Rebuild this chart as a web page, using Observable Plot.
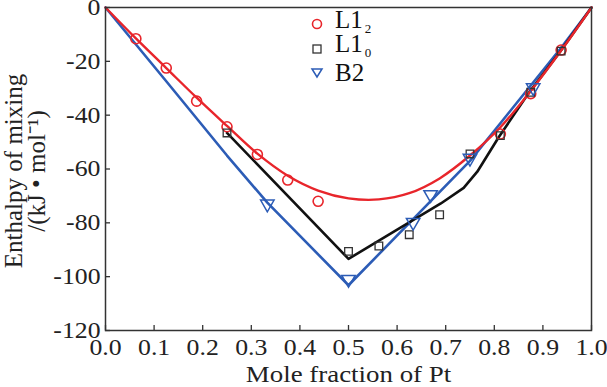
<!DOCTYPE html>
<html><head><meta charset="utf-8">
<script src="https://cdn.jsdelivr.net/npm/d3@7"></script>
<script src="https://cdn.jsdelivr.net/npm/@observablehq/plot@0.6"></script>
<style>
html,body{margin:0;padding:0;background:#fff;}
#wrap{position:relative;width:607px;height:387px;font-family:"Liberation Serif",serif;}
#legend{position:absolute;left:310px;top:12px;font-size:25px;line-height:24.5px;color:#111;}
#legend div{display:flex;align-items:center;height:24.5px;}
#legend svg{margin-right:11px;}
#legend sub{font-size:13px;vertical-align:-5px;margin-left:2px;}
</style></head><body>
<div id="wrap"><div id="chart"></div><div id="legend"></div></div>
<script>
// L1_2 data points
const l12X = [0.0625,0.125,0.1875,0.25,0.3125,0.375,0.4375,0.8125,0.875,0.9375];
const l12Y = [-11.6,-22.5,-34.8,-44.3,-54.6,-64.1,-72,-47,-32,-15.8];
// L1_2 fitted curve
const l12LineX = [0,0.0625,0.125,0.1875,0.25,0.3125,0.375,0.4375,0.5,0.5625,0.625,0.6875,0.75,0.8125,0.875,0.9375,1];
const l12LineY = [0,-11.5,-22.5,-33.5,-44,-54.3,-62.5,-68,-70.9,-71.3,-69,-63.5,-55,-44.5,-31,-16,0];
// L1_0 data points
const l10X = [0.25,0.5,0.5625,0.625,0.6875,0.75,0.8125,0.875,0.9375];
const l10Y = [-46.6,-90.6,-88.6,-84.4,-77,-54.4,-47.6,-31.5,-16.2];
// L1_0 line
const l10LineX = [0.25,0.5,0.69,0.737,0.765,0.809,0.87,0.935,1];
const l10LineY = [-46.6,-93.4,-72.8,-67,-61,-48.2,-32,-16.5,0];
// B2 data points
const b2X = [0.333,0.5,0.633,0.669,0.75,0.88];
const b2Y = [-73,-101,-79.8,-69.5,-56,-29.8];
// B2 line
const b2LineX = [0,0.125,0.25,0.333,0.5,0.75,0.8125,0.875,0.9375,1];
const b2LineY = [0,-27.4,-55,-72.5,-103.2,-57,-43,-29,-15,0];
// axes
const xTicks = [0,0.1,0.2,0.3,0.4,0.5,0.6,0.7,0.8,0.9,1.0];
const yTicks = [0,-20,-40,-60,-80,-100,-120];
const xLabel = "Mole fraction of Pt";
const yLabel = "Enthalpy of mixing\n/(kJ • mol⁻¹)";

const red = "#e8252b", blue = "#2c5cb6", black = "#111", sqc = "#333";
const pts = (X, Y) => X.map((x, i) => ({x, y: Y[i]}));
const serif = "'Liberation Serif', 'Times New Roman', serif";

const plot = Plot.plot({
  width: 607, height: 387,
  marginLeft: 105, marginRight: 16, marginTop: 7, marginBottom: 57,
  style: {background: "#fff", overflow: "visible", fontFamily: serif},
  x: {domain: [0, 1], ticks: xTicks},
  y: {domain: [-120, 0], ticks: yTicks},
  marks: [
    Plot.line(pts(b2LineX, b2LineY), {x: "x", y: "y", stroke: blue, strokeWidth: 2.6}),
    Plot.line(pts(l10LineX, l10LineY), {x: "x", y: "y", stroke: black, strokeWidth: 2.6}),
    Plot.line(pts(l12LineX, l12LineY), {x: "x", y: "y", stroke: red, strokeWidth: 2.4, curve: "catmull-rom"}),
    Plot.dot(pts(l12X, l12Y), {x: "x", y: "y", r: 5, stroke: red, strokeWidth: 1.6, fill: "none"}),
    Plot.dot(pts(l10X, l10Y), {x: "x", y: "y", symbol: "square", r: 4.3, stroke: sqc, strokeWidth: 1.3, fill: "none"}),
    Plot.dot(pts(b2X, b2Y), {x: "x", y: "y", symbol: "triangle", rotate: 180, r: 5, stroke: blue, strokeWidth: 1.5, fill: "none"}),
    Plot.frame({stroke: "#333", strokeWidth: 1.5}),
    Plot.axisX({ticks: xTicks, tickSize: 5, dy: -5, text: null, label: null, stroke: "#333", strokeWidth: 1.3}),
    Plot.axisY({ticks: yTicks, tickSize: 5, dx: 5, text: null, label: null, stroke: "#333", strokeWidth: 1.3}),
    Plot.axisX({ticks: xTicks, tickSize: 0, tickPadding: 8, tickFormat: d => d.toFixed(1), label: null, fontSize: 23, fill: "#222", fontFamily: serif, className: "stretch"}),
    Plot.axisY({ticks: yTicks, tickSize: 0, tickPadding: 5, tickFormat: d => String(d), label: null, fontSize: 23, fill: "#222", fontFamily: serif, className: "stretch"}),
    Plot.text([xLabel], {frameAnchor: "bottom", lineAnchor: "middle", dy: 44, fontSize: 24, fill: "#222", fontFamily: serif, className: "stretch"}),
    Plot.text([yLabel], {frameAnchor: "left", textAnchor: "middle", lineAnchor: "middle", rotate: -90, dx: -79, dy: 2, fontSize: 25, lineHeight: 0.9, fill: "#222", fontFamily: serif})
  ]
});
document.getElementById("chart").appendChild(plot);
// widen the horizontal texts as in the reference
plot.querySelectorAll(".stretch text").forEach(t => {
  const w = t.getComputedTextLength();
  t.setAttribute("textLength", (w * 1.12).toFixed(1));
  t.setAttribute("lengthAdjust", "spacingAndGlyphs");
});

// legend
const legendItems = [
  {name: "L1", sub: "2", sym: `<circle cx="7" cy="7" r="4.5" fill="none" stroke="${red}" stroke-width="1.6"/>`},
  {name: "L1", sub: "0", sym: `<rect x="3" y="3" width="8" height="8" fill="none" stroke="${sqc}" stroke-width="1.3"/>`},
  {name: "B2", sub: "", sym: `<path d="M2,3 L12,3 L7,11 Z" fill="none" stroke="${blue}" stroke-width="1.5"/>`}
];
document.getElementById("legend").innerHTML = legendItems.map(d =>
  `<div><svg width="14" height="14">${d.sym}</svg><span>${d.name}${d.sub ? `<sub>${d.sub}</sub>` : ""}</span></div>`
).join("");
</script>
</body></html>
